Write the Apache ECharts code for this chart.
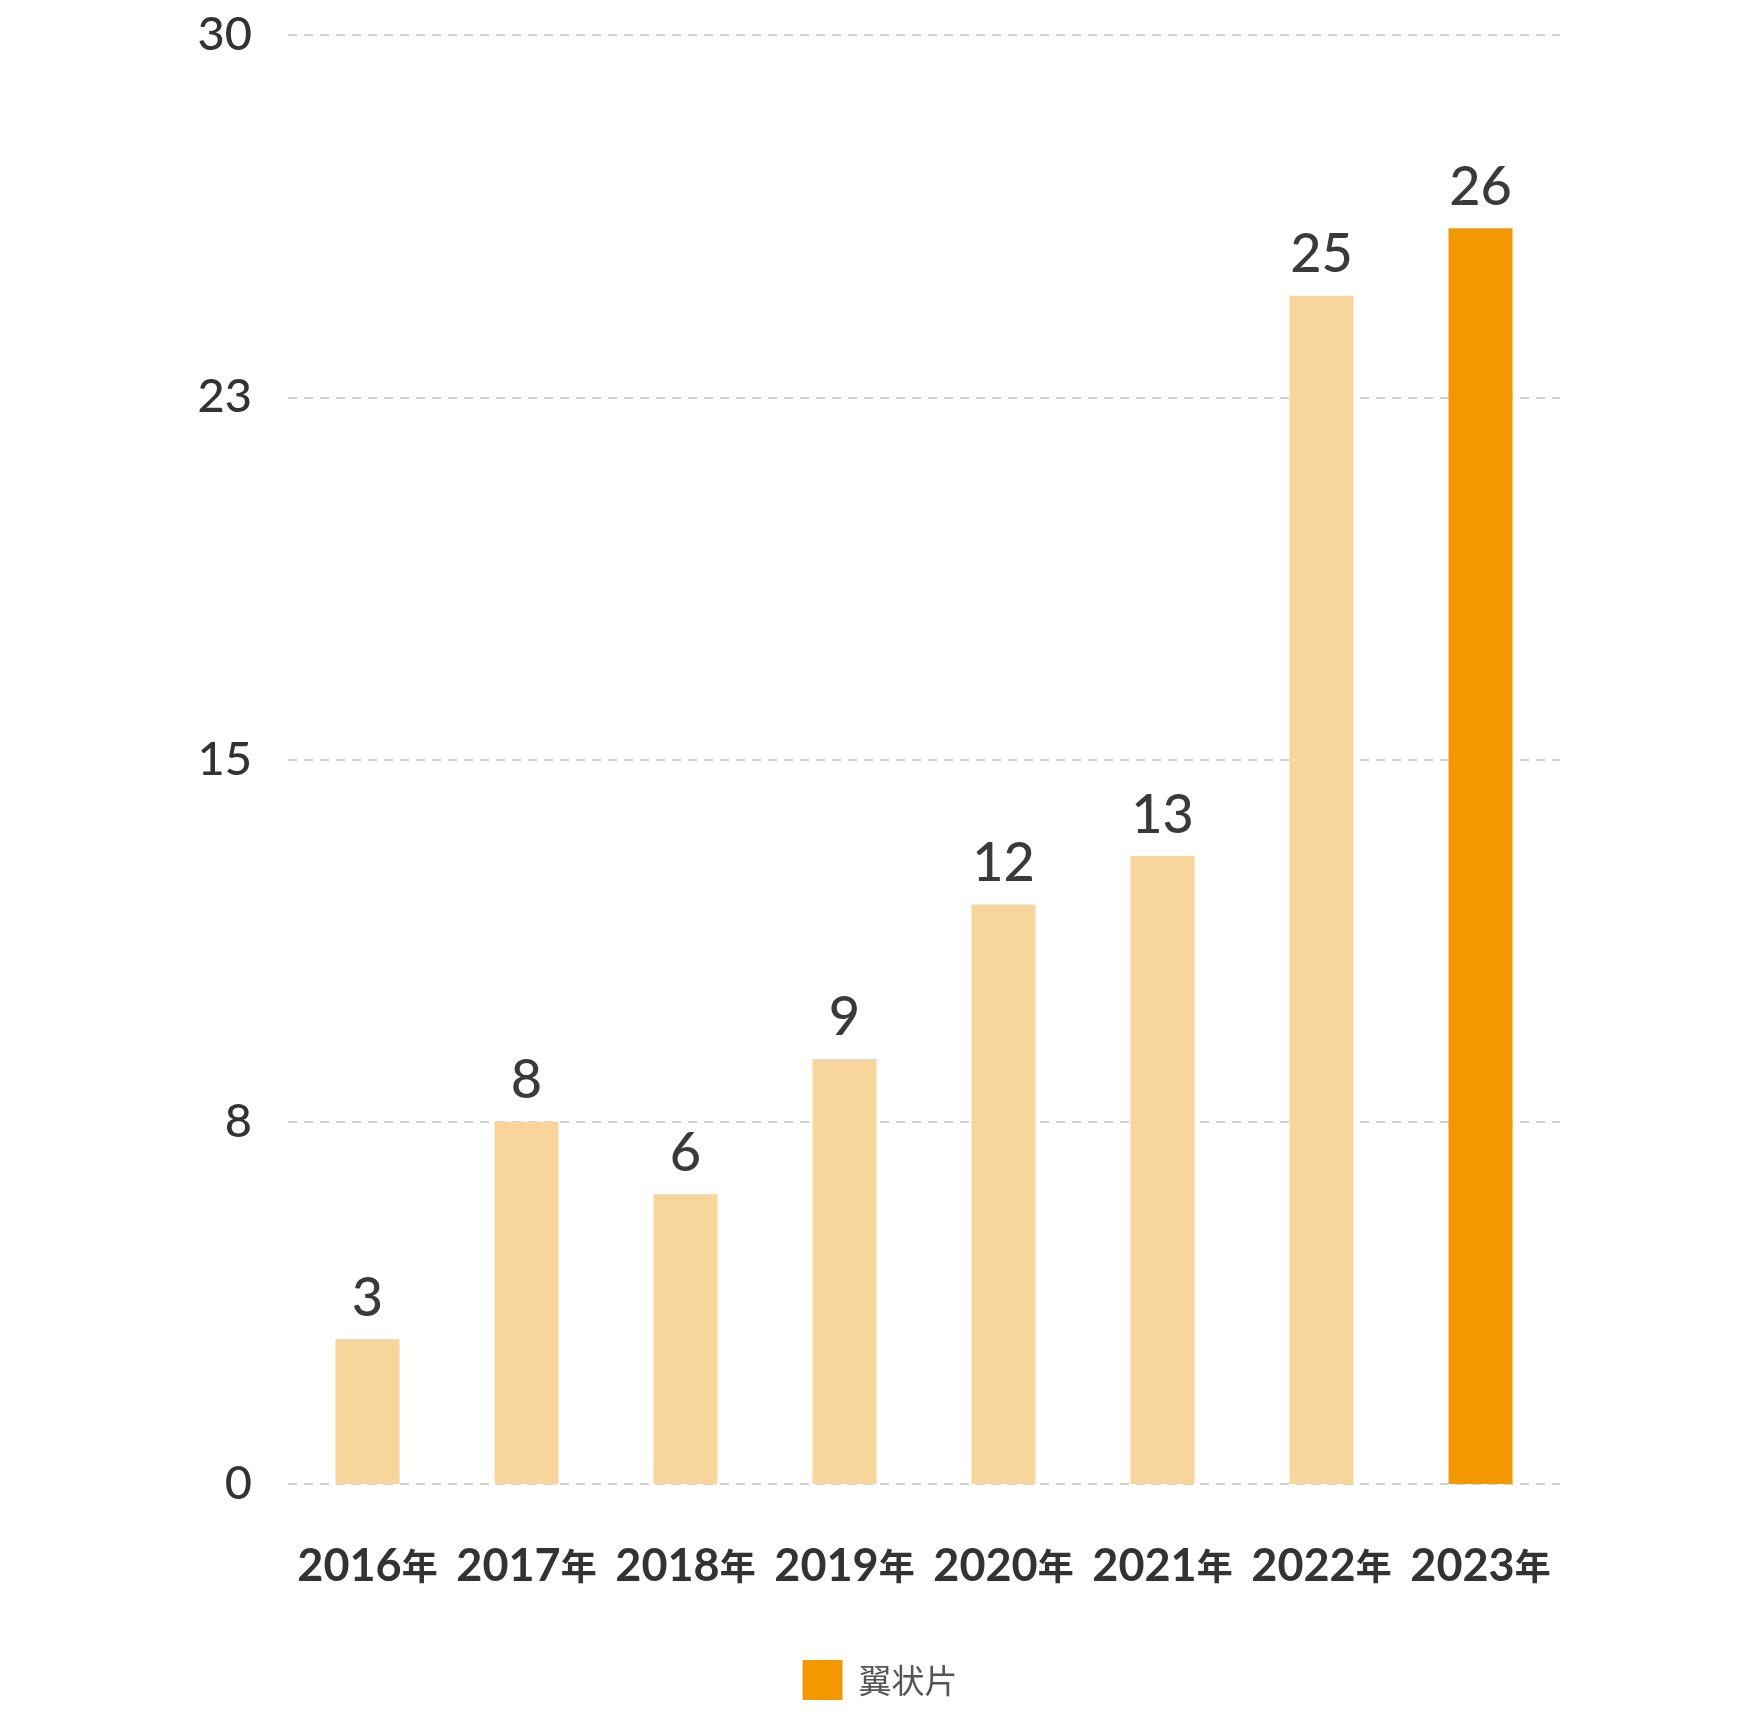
<!DOCTYPE html>
<html>
<head>
<meta charset="utf-8">
<script src="https://cdn.jsdelivr.net/npm/echarts@6/dist/echarts.min.js"></script>
<style>
html,body{margin:0;padding:0;background:#fff;}
#chart{width:1760px;height:1712px;}
</style>
</head>
<body>
<div id="chart"></div>
<script>
const categories = ['2016年','2017年','2018年','2019年','2020年','2021年','2022年','2023年'];
const values = [3, 7.5, 6, 8.8, 12, 13, 24.6, 26];
const seriesName = '翼状片';
const yMin = 0, yMax = 30, yInterval = 7.5;

const lightColor = '#F8D59A';
const darkColor = '#F39800';
const numFont = 'Lato';

const chart = echarts.init(document.getElementById('chart'));
const data = values.map((v, i) => ({
  value: v,
  itemStyle: { color: i === values.length - 1 ? darkColor : lightColor }
}));

chart.setOption({
  backgroundColor: '#fff',
  animation: false,
  grid: { left: 288, right: 200, top: 35, bottom: 228, containLabel: false },
  legend: {
    data: [seriesName],
    left: 'center',
    top: 1655,
    itemWidth: 40,
    itemHeight: 40,
    itemGap: 20,
    icon: 'rect',
    textStyle: { fontSize: 33, color: '#555', fontFamily: 'Noto Sans CJK SC', padding: [0,0,0,11] }
  },
  xAxis: {
    type: 'category',
    data: categories,
    axisLine: { show: false },
    axisTick: { show: false },
    axisLabel: {
      margin: 52,
      formatter: v => '{n|' + v.replace('年', '') + '}{c|年}',
      rich: {
        n: { fontFamily: numFont, fontSize: 45, color: '#333', lineHeight: 60, fontWeight: 'bold' },
        c: { fontFamily: 'Noto Sans CJK SC', fontSize: 36, color: '#333', lineHeight: 60, fontWeight: 'bold' }
      }
    }
  },
  yAxis: {
    type: 'value',
    min: yMin,
    max: yMax,
    interval: yInterval,
    axisLine: { show: false },
    axisTick: { show: false },
    axisLabel: {
      margin: 36,
      fontFamily: numFont,
      fontSize: 47,
      fontWeight: 500,
      color: '#333',
      formatter: v => String(Math.round(v))
    },
    splitLine: {
      lineStyle: { color: '#d0d0d0', width: 2, type: [9, 7] }
    }
  },
  series: [{
    name: seriesName,
    type: 'bar',
    data: data,
    barWidth: 64,
    itemStyle: { color: darkColor },
    label: {
      show: true,
      position: 'top',
      distance: 14,
      fontFamily: numFont,
      fontSize: 54,
      fontWeight: 500,
      color: '#3a3a3a',
      formatter: p => String(Math.round(p.value))
    }
  }]
});
</script>
</body>
</html>
